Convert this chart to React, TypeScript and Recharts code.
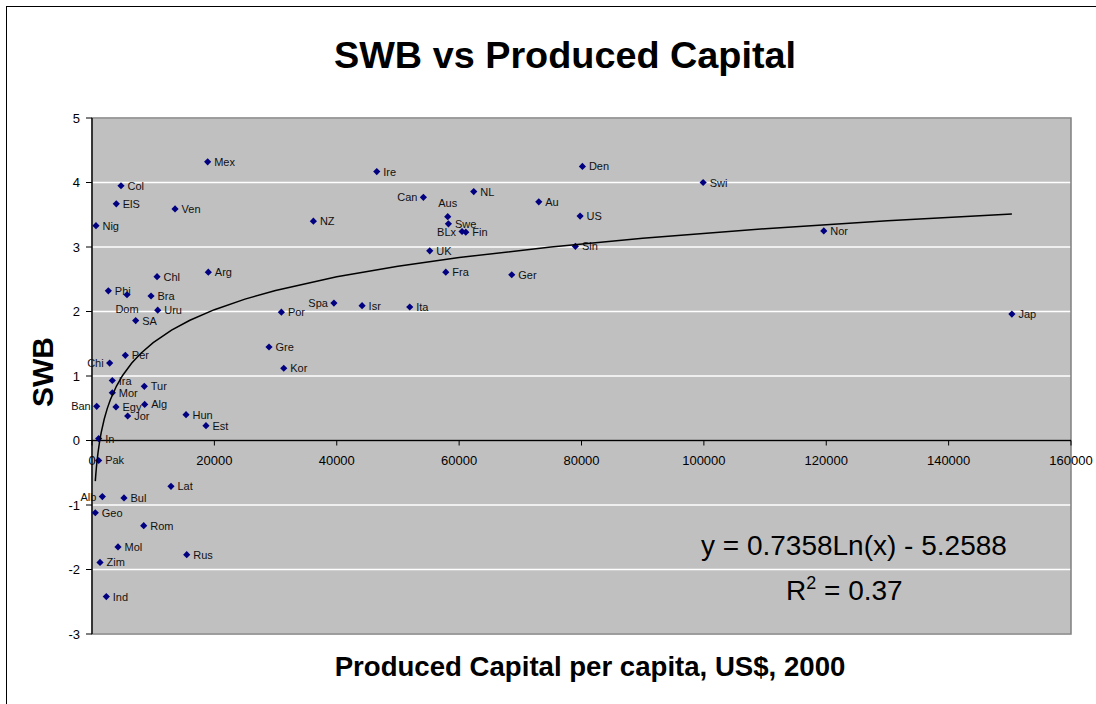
import React from 'react'
import {
  ScatterChart,
  Scatter,
  XAxis,
  YAxis,
  CartesianGrid,
  ReferenceLine,
  ReferenceDot,
  ReferenceArea,
} from 'recharts'

// Countries, produced capital per capita (US$, 2000) and SWB
const countries = [
  'Mex', 'Col', 'ElS', 'Ven', 'Nig', 'NZ', 'Chl', 'Arg', 'Phi', 'Dom',
  'Bra', 'Uru', 'SA', 'Por', 'Spa', 'Gre', 'Kor', 'Per', 'Chi', 'Ira',
  'Mor', 'Tur', 'Ban', 'Egy', 'Alg', 'Jor', 'Hun', 'Est', 'In', 'Pak',
  'Lat', 'Alb', 'Bul', 'Geo', 'Rom', 'Mol', 'Rus', 'Zim', 'Ind', 'Ire',
  'Den', 'Can', 'NL', 'Au', 'Aus', 'Swe', 'BLx', 'Fin', 'US', 'UK',
  'Sin', 'Fra', 'Ger', 'Isr', 'Ita', 'Swi', 'Nor', 'Jap',
]
const capital = [
  18900, 4740, 3970, 13570, 650, 36180, 10630, 19010, 2670, 5720,
  9650, 10740, 7140, 30950, 39540, 28930, 31340, 5450, 2890, 3320,
  3320, 8550, 770, 3920, 8610, 5830, 15370, 18630, 1090, 1090,
  12910, 1690, 5230, 540, 8450, 4250, 15480, 1310, 2340, 46540,
  80150, 54160, 62390, 73020, 58140, 58250, 60480, 61090, 79770, 55200,
  79000, 57820, 68600, 44140, 51930, 99880, 119600, 150340,
]
const swb = [
  4.32, 3.95, 3.67, 3.59, 3.33, 3.40, 2.54, 2.61, 2.32, 2.26,
  2.24, 2.02, 1.86, 1.99, 2.13, 1.45, 1.12, 1.32, 1.20, 0.93,
  0.74, 0.84, 0.53, 0.52, 0.56, 0.38, 0.40, 0.23, 0.03, -0.31,
  -0.71, -0.87, -0.89, -1.12, -1.32, -1.65, -1.77, -1.89, -2.42, 4.17,
  4.25, 3.77, 3.86, 3.70, 3.47, 3.36, 3.24, 3.23, 3.48, 2.94,
  3.01, 2.61, 2.57, 2.09, 2.07, 4.00, 3.25, 1.96,
]

// Logarithmic trendline printed on the chart: y = 0.7358 ln(x) - 5.2588
const trendSlope = 0.7358
const trendIntercept = -5.2588
const trendX = [
  540, 600, 700, 800, 1000, 1250, 1500, 2000, 2500, 3000, 4000, 5000, 6500,
  8000, 10000, 13000, 16000, 20000, 25000, 30000, 40000, 50000, 60000, 75000,
  90000, 110000, 130000, 150340,
]

const xTicks = [0, 20000, 40000, 60000, 80000, 100000, 120000, 140000, 160000]
const yTicks = [-3, -2, -1, 0, 1, 2, 3, 4, 5]

const points = countries.map((name, i) => ({ name, x: capital[i], y: swb[i] }))
const trend = trendX.map(x => ({ x, y: trendSlope * Math.log(x) + trendIntercept }))

const FONT = 'Arial, "Liberation Sans", sans-serif'

// labels that sit on the left of their point
const leftLabels = ['Can', 'Spa', 'Ban', 'Chi', 'Alb', 'BLx']

const CountryPoint = (props: any) => {
  const { cx, cy, payload } = props
  const name: string = payload.name
  const s = 3.6
  let tx = cx + 6.5
  let ty = cy + 4
  let anchor = 'start'
  if (leftLabels.includes(name)) {
    tx = cx - 6
    anchor = 'end'
  }
  if (name === 'Aus') {
    tx = cx
    ty = cy - 9.5
    anchor = 'middle'
  }
  if (name === 'Dom') {
    tx = cx
    ty = cy + 18
    anchor = 'middle'
  }
  return (
    <g>
      <path d={`M${cx},${cy - s}L${cx + s},${cy}L${cx},${cy + s}L${cx - s},${cy}Z`} fill="#000080" />
      <text x={tx} y={ty} textAnchor={anchor} fontSize={11} fontFamily={FONT} fill="#111">
        {name}
      </text>
    </g>
  )
}

const XTick = (props: any) => {
  const { cx, cy, label } = props
  return (
    <g>
      <line x1={cx} x2={cx} y1={cy} y2={cy + 5} stroke="#000" strokeWidth={1} />
      <text x={cx} y={cy + 24} textAnchor="middle" fontSize={13} fontFamily={FONT} fill="#000">
        {label}
      </text>
    </g>
  )
}

export default function App() {
  return (
    <div style={{ position: 'absolute', left: 0, top: 0, width: 1096, height: 704, overflow: 'hidden', background: '#fff' }}>
      <div style={{ position: 'absolute', left: 6, top: 6, width: 1200, height: 800, border: '1.3px solid #000' }} />
      <div style={{ position: 'absolute', left: 0, top: 0 }}>
        <ScatterChart width={1096} height={704} margin={{ top: 118, right: 25, bottom: 70, left: 32 }}>
          <CartesianGrid vertical={false} stroke="#fff" strokeWidth={1.5} fill="#C0C0C0" fillOpacity={1} />
          <XAxis type="number" dataKey="x" domain={[0, 160000]} ticks={xTicks} hide />
          <YAxis
            type="number"
            dataKey="y"
            domain={[-3, 5]}
            ticks={yTicks}
            width={60}
            interval={0}
            axisLine={{ stroke: '#000', strokeWidth: 1.3 }}
            tickLine={{ stroke: '#000' }}
            tickSize={6}
            tickMargin={6}
            tick={{ fontSize: 13, fontFamily: FONT, fill: '#000' }}
          />
          <ReferenceArea x1={0} x2={160000} y1={-3} y2={5} fill="none" stroke="#808080" strokeWidth={1.5} ifOverflow="visible" />
          <ReferenceLine y={0} stroke="#000" strokeWidth={1.3} />
          {xTicks.map(t => (
            <ReferenceDot
              key={t}
              x={t}
              y={0}
              r={0}
              ifOverflow="visible"
              shape={(p: any) => <XTick cx={p.cx} cy={p.cy} label={String(t)} />}
            />
          ))}
          <Scatter data={points} shape={CountryPoint} isAnimationActive={false} />
          <Scatter
            data={trend}
            line={{ stroke: '#000', strokeWidth: 1.5 }}
            lineType="joint"
            shape={() => <g />}
            isAnimationActive={false}
          />
        </ScatterChart>
      </div>
      <svg width={1096} height={704} style={{ position: 'absolute', left: 0, top: 0, pointerEvents: 'none' }}>
        <text x={565} y={68} textAnchor="middle" fontSize={37.8} fontWeight="bold" fontFamily={FONT}>
          SWB vs Produced Capital
        </text>
        <text x={590} y={676} textAnchor="middle" fontSize={27.6} fontWeight="bold" fontFamily={FONT}>
          Produced Capital per capita, US$, 2000
        </text>
        <text x={53} y={372} textAnchor="middle" fontSize={30} fontWeight="bold" fontFamily={FONT} transform="rotate(-90 53 372)">
          SWB
        </text>
        <text x={701} y={555} fontSize={28} fontFamily={FONT}>
          y = 0.7358Ln(x) - 5.2588
        </text>
        <text x={786} y={600} fontSize={28} fontFamily={FONT}>
          R<tspan fontSize={18} dy={-11}>2</tspan>
          <tspan dy={11}> = 0.37</tspan>
        </text>
      </svg>
    </div>
  )
}
